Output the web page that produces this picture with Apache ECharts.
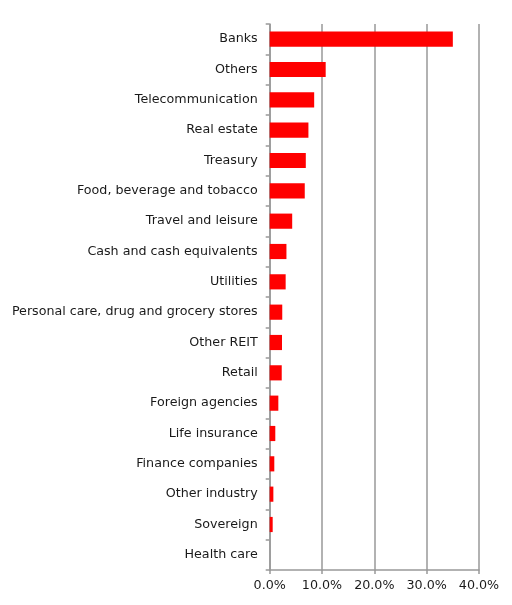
<!DOCTYPE html>
<html><head><meta charset="utf-8">
<script src="https://cdn.jsdelivr.net/npm/echarts@6/dist/echarts.min.js"></script>
<style>html,body{margin:0;padding:0;background:#fff}#c{width:512px;height:605px}</style>
</head><body><div id="c"></div>
<script>
const categories = ["Banks","Others","Telecommunication","Real estate","Treasury","Food, beverage and tobacco","Travel and leisure","Cash and cash equivalents","Utilities","Personal care, drug and grocery stores","Other REIT","Retail","Foreign agencies","Life insurance","Finance companies","Other industry","Sovereign","Health care"];
const values = [35.0,10.7,8.5,7.4,6.9,6.7,4.3,3.2,3.05,2.4,2.35,2.3,1.65,1.07,0.88,0.7,0.57,0];
const xTicks = [0,10,20,30,40];

const chart = echarts.init(document.getElementById('c'));
chart.setOption({
  animation:false,
  grid:{left:269.7,right:33,top:24,bottom:35,containLabel:false},
  xAxis:{type:'value',min:xTicks[0],max:xTicks[xTicks.length-1],interval:10,
    axisLine:{show:true,lineStyle:{color:'#999',width:1.5}},
    axisTick:{show:true,length:4,lineStyle:{color:'#999',width:1.5}},
    splitLine:{show:true,lineStyle:{color:'#999',width:1.5}},
    axisLabel:{formatter:v=>v.toFixed(1)+'%',color:'#1a1a1a',fontFamily:'DejaVu Sans',fontSize:12.7,margin:9}},
  yAxis:{type:'category',data:categories,inverse:true,
    axisLine:{show:true,lineStyle:{color:'#999',width:1.5}},
    axisTick:{show:true,length:4,lineStyle:{color:'#999',width:1.5}},
    axisLabel:{color:'#1a1a1a',fontFamily:'DejaVu Sans',fontSize:12.7,margin:12}},
  series:[{type:'bar',data:values,barCategoryGap:'50%',itemStyle:{color:'#ff0000'}}]
});
</script></body></html>
